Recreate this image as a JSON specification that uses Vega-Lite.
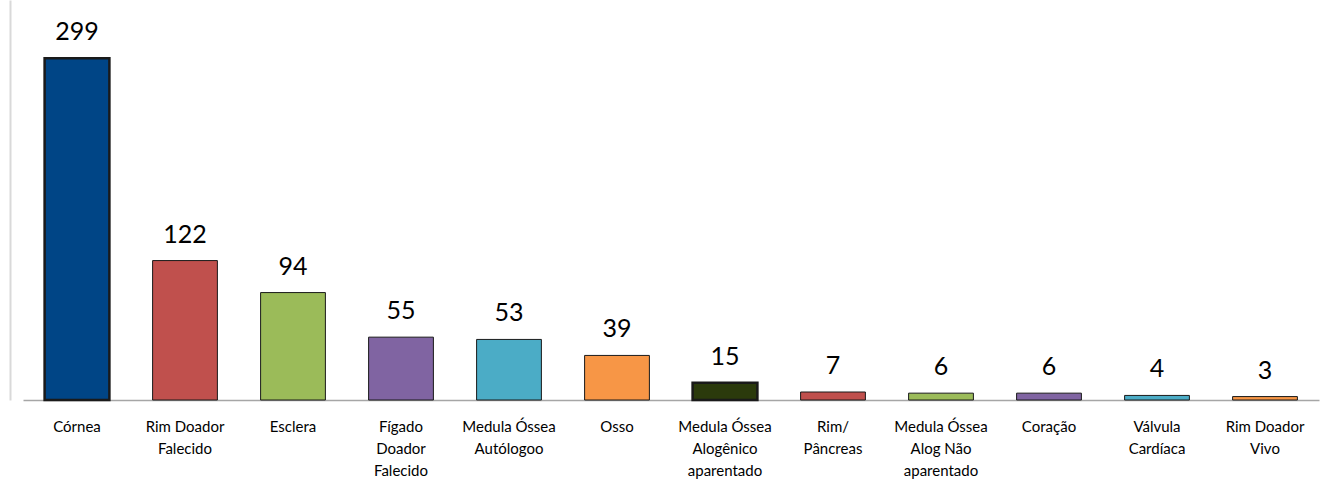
{
  "$schema": "https://vega.github.io/schema/vega-lite/v6.json",
  "width": 1296,
  "height": 400,
  "autosize": {"type": "none"},
  "padding": {"left": 23, "top": 0, "right": 3, "bottom": 86},
  "background": "white",
  "config": {"view": {"stroke": null}, "font": "Lato"},
  "data": {
    "values": [
      {"cat": "Córnea", "v": 299, "color": "#004586"},
      {"cat": "Rim Doador|Falecido", "v": 122, "color": "#C0504D"},
      {"cat": "Esclera", "v": 94, "color": "#9BBB59"},
      {"cat": "Fígado|Doador|Falecido", "v": 55, "color": "#8064A2"},
      {"cat": "Medula Óssea|Autólogoo", "v": 53, "color": "#4BACC6"},
      {"cat": "Osso", "v": 39, "color": "#F79646"},
      {"cat": "Medula Óssea|Alogênico|aparentado", "v": 15, "color": "#2B3A0C"},
      {"cat": "Rim/|Pâncreas", "v": 7, "color": "#C0504D"},
      {"cat": "Medula Óssea|Alog Não|aparentado", "v": 6, "color": "#9BBB59"},
      {"cat": "Coração", "v": 6, "color": "#8064A2"},
      {"cat": "Válvula|Cardíaca", "v": 4, "color": "#4BACC6"},
      {"cat": "Rim Doador|Vivo", "v": 3, "color": "#F79646"}
    ]
  },
  "encoding": {
    "x": {
      "field": "cat", "type": "nominal", "sort": null,
      "scale": {"paddingInner": 0.4, "paddingOuter": 0.2},
      "axis": {
        "title": null, "labelAngle": 0, "ticks": false,
        "domainColor": "#a6a6a6", "domainWidth": 1.5,
        "labelExpr": "split(datum.label, '|')",
        "labelFontSize": 15, "labelColor": "#000000",
        "labelLineHeight": 22, "labelPadding": 19, "labelBaseline": "top"
      }
    },
    "y": {
      "field": "v", "type": "quantitative",
      "scale": {"domain": [0, 350]},
      "axis": {"title": null, "labels": false, "ticks": false, "grid": false,
               "domainColor": "#d9d9d9", "domainWidth": 2, "offset": 13}
    }
  },
  "layer": [
    {
      "mark": {"type": "bar", "stroke": "#1a1a1a"},
      "encoding": {
        "color": {"field": "color", "type": "nominal", "scale": null},
        "strokeWidth": {"condition": {"test": "datum.v === 299 || datum.v === 15", "value": 2.5}, "value": 1}
      }
    },
    {
      "mark": {"type": "text", "baseline": "alphabetic", "dy": -18, "fontSize": 25, "color": "#000000"},
      "encoding": {"text": {"field": "v", "type": "quantitative"}}
    }
  ]
}
